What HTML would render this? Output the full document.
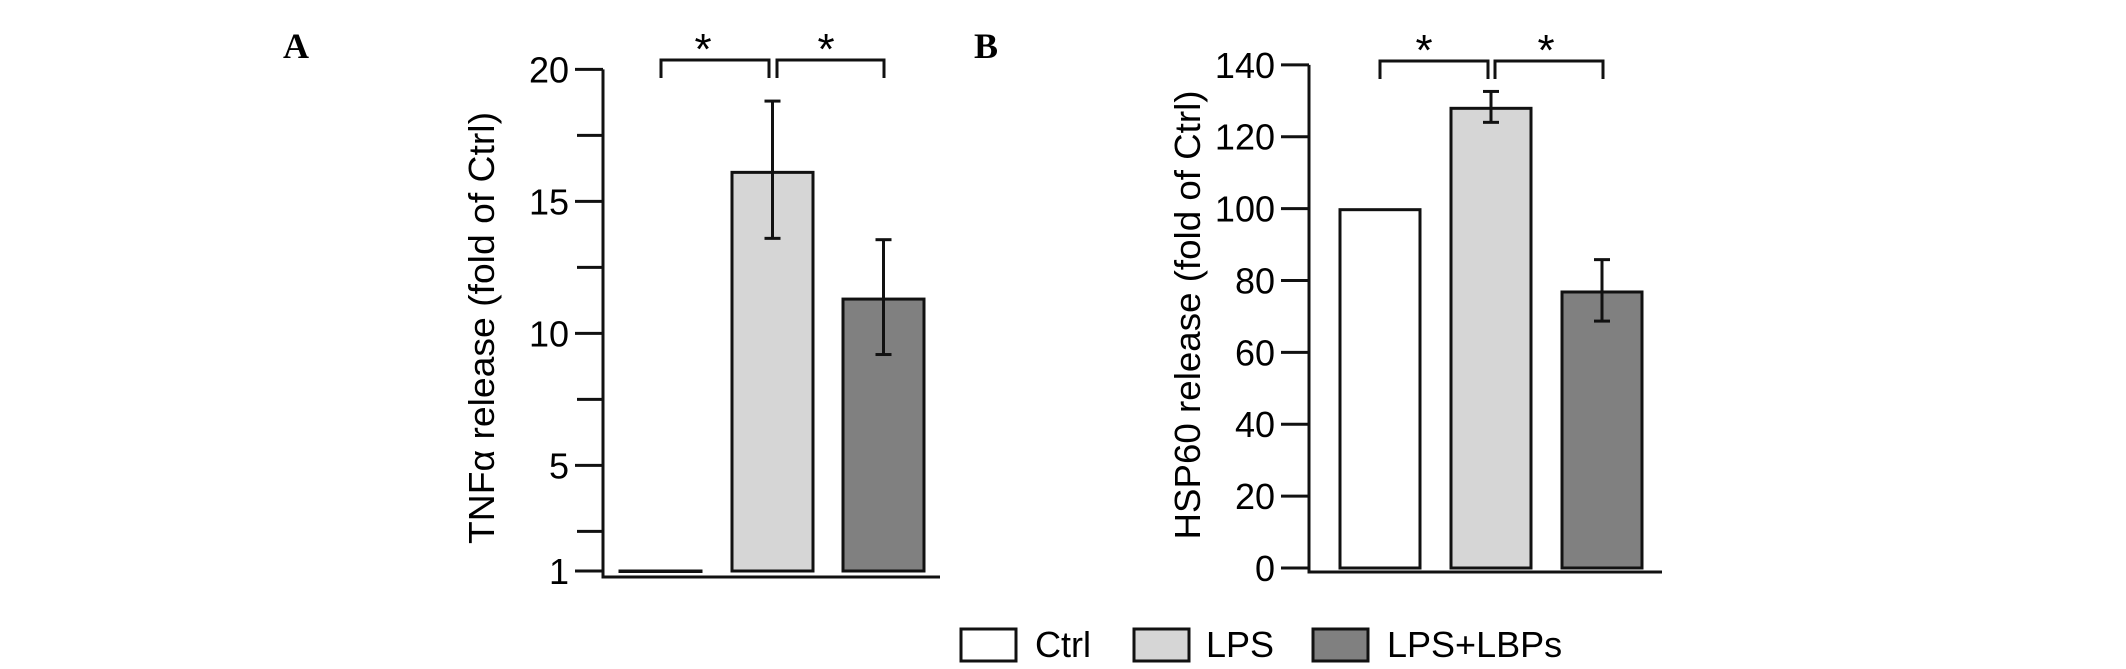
<!DOCTYPE html>
<html><head><meta charset="utf-8"><style>
html,body{margin:0;padding:0;background:#fff;}
svg{display:block;font-family:"Liberation Sans",Arial,sans-serif;}
</style></head><body>
<svg id="fig" width="2126" height="669" viewBox="0 0 2126 669" xmlns="http://www.w3.org/2000/svg">
<text x="296" y="58" font-family="Liberation Serif,serif" font-weight="bold" font-size="36" text-anchor="middle">A</text>
<text x="986" y="58" font-family="Liberation Serif,serif" font-weight="bold" font-size="36" text-anchor="middle">B</text>
<g id="pa"></g>
<g id="pb"></g>
<g>
<rect x="961" y="629" width="55" height="32" fill="#fff" stroke="#111" stroke-width="3"/>
<text x="1035" y="657" font-size="36">Ctrl</text>
<rect x="1134" y="629" width="55" height="32" fill="#d6d6d6" stroke="#111" stroke-width="3"/>
<text x="1206" y="657" font-size="36">LPS</text>
<rect x="1313" y="629" width="55" height="32" fill="#808080" stroke="#111" stroke-width="3"/>
<text x="1387" y="657" font-size="36">LPS+LBPs</text>
</g>
</svg>
<script>
const categories = ["Ctrl", "LPS", "LPS+LBPs"];
const fills = ["#ffffff", "#d6d6d6", "#808080"];
const tnfValues = [1, 16.1, 11.3];
const tnfErrHi = [1, 18.8, 13.55];
const tnfErrLo = [1, 13.6, 9.2];
const tnfTicks = [1, 5, 10, 15, 20];
const tnfMinorTicks = [2.5, 7.5, 12.5, 17.5];
const hspValues = [99.7, 127.9, 76.8];
const hspErrHi = [99.7, 132.6, 85.8];
const hspErrLo = [99.7, 124, 68.7];
const hspTicks = [0, 20, 40, 60, 80, 100, 120, 140];

const NS = "http://www.w3.org/2000/svg";
function mk(parent, tag, attrs, text) {
  const e = document.createElementNS(NS, tag);
  for (const k in attrs) e.setAttribute(k, attrs[k]);
  if (text !== undefined) e.textContent = text;
  parent.appendChild(e);
  return e;
}
function drawPanel(cfg) {
  const g = document.getElementById(cfg.id);
  const y = v => cfg.y0 - (v - cfg.v0) * cfg.ppu;
  const line = (x1, y1, x2, y2, name, w) => {
    const l = mk(g, "line", {x1, y1, x2, y2, stroke: "#111", "stroke-width": w || 3});
    
    
    return l;
  };
  line(cfg.axisX, y(cfg.axisTop), cfg.axisX, cfg.baseY, cfg.prefix + "-y-axis");
  line(cfg.axisX - 1.5, cfg.baseY, cfg.xEnd, cfg.baseY, cfg.prefix + "-x-axis");
  cfg.ticks.forEach(t => {
    line(cfg.axisX - 28, y(t), cfg.axisX, y(t), cfg.prefix + "-y-tick");
    const tx = mk(g, "text", {x: cfg.axisX - 34, y: y(t) + 13, "font-size": 36, "text-anchor": "end"}, String(t));
    
    
  });
  (cfg.minor || []).forEach(t => {
    line(cfg.axisX - 26, y(t), cfg.axisX, y(t), cfg.prefix + "-y-minor-tick");
  });
  const lab = mk(g, "text", {x: 0, y: 0, "font-size": 36, "text-anchor": "middle",
    transform: `translate(${cfg.labelX},${cfg.labelY}) rotate(-90)`, textLength: cfg.labelLen, lengthAdjust: "spacingAndGlyphs"}, cfg.label);
  
  
  cfg.values.forEach((v, i) => {
    const x0 = cfg.barX[i];
    const top = y(v);
    const bottom = y(cfg.base);
    const r = mk(g, "rect", {x: x0, y: top, width: cfg.barW, height: Math.max(bottom - top, 0.5), fill: fills[i], stroke: "#111", "stroke-width": 3});
    
    
    if (cfg.errHi[i] !== cfg.errLo[i]) {
      const cx = x0 + cfg.barW / 2;
      line(cx, y(cfg.errHi[i]), cx, y(cfg.errLo[i]), cfg.prefix + "-error-bar");
      line(cx - 8, y(cfg.errHi[i]), cx + 8, y(cfg.errHi[i]), cfg.prefix + "-error-cap");
      line(cx - 8, y(cfg.errLo[i]), cx + 8, y(cfg.errLo[i]), cfg.prefix + "-error-cap");
    }
  });
  const b = cfg.br;
  line(b.l, b.top, b.m1, b.top, cfg.prefix + "-sig-bracket");
  line(b.m2, b.top, b.r, b.top, cfg.prefix + "-sig-bracket");
  line(b.l, b.top - 1.5, b.l, b.bot, cfg.prefix + "-sig-bracket");
  line(b.r, b.top - 1.5, b.r, b.bot, cfg.prefix + "-sig-bracket");
  line(b.m1, b.top - 1.5, b.m1, b.bot, cfg.prefix + "-sig-bracket");
  line(b.m2, b.top - 1.5, b.m2, b.bot, cfg.prefix + "-sig-bracket");
  b.stars.forEach(sx => {
    const s = mk(g, "text", {x: sx, y: b.top + 4, "font-size": 44, "text-anchor": "middle"}, "*");
    
    
  });
}
drawPanel({id: "pa", prefix: "panel-a", y0: 69.4, v0: 20, ppu: 26.4, axisTop: 20, base: 1,
  axisX: 603, baseY: 577, xEnd: 940, ticks: tnfTicks, minor: tnfMinorTicks,
  label: "TNFα  release (fold of Ctrl)", labelX: 494, labelY: 328, labelLen: 432,
  values: tnfValues, errHi: tnfErrHi, errLo: tnfErrLo, barX: [620, 732, 843], barW: 81,
  br: {l: 661, m1: 769, m2: 777, r: 884, top: 60, bot: 78, stars: [703, 826]}});
drawPanel({id: "pb", prefix: "panel-b", y0: 568, v0: 0, ppu: 3.594, axisTop: 140, base: 0,
  axisX: 1309, baseY: 572, xEnd: 1662, ticks: hspTicks,
  label: "HSP60 release (fold of Ctrl)", labelX: 1200, labelY: 315, labelLen: 449,
  values: hspValues, errHi: hspErrHi, errLo: hspErrLo, barX: [1340, 1451, 1562], barW: 80,
  br: {l: 1380, m1: 1488, m2: 1495, r: 1603, top: 61, bot: 79, stars: [1424, 1546]}});
</script>
</body></html>
